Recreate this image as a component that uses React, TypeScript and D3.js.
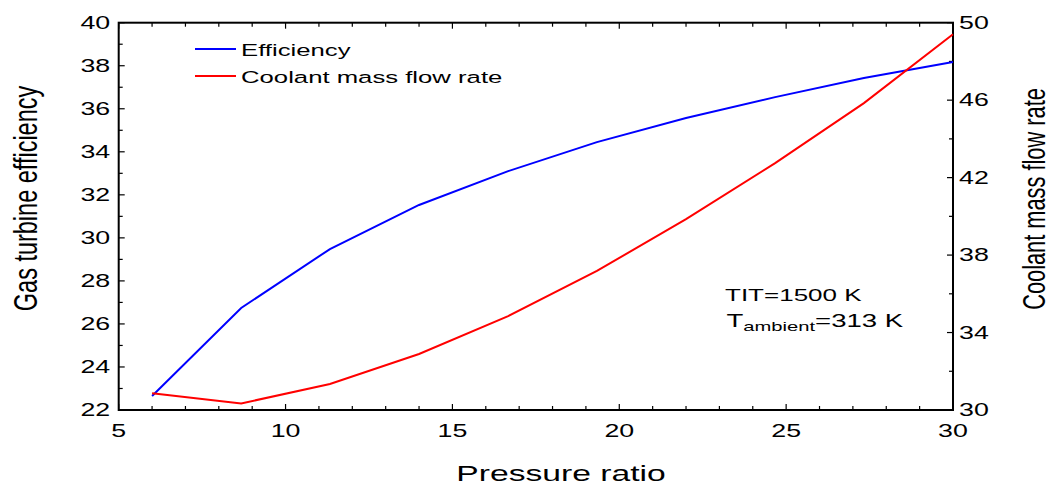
import React from "react";
import * as d3 from "d3";

const pressureRatio = [6, 8.67, 11.33, 14, 16.67, 19.33, 22, 24.67, 27.33, 30];
const efficiency = [22.65, 26.74, 29.48, 31.53, 33.1, 34.45, 35.57, 36.54, 37.43, 38.17];
const coolantFlow = [30.86, 30.34, 31.34, 32.89, 34.85, 37.18, 39.86, 42.75, 45.85, 49.4];
const xTicks = [5, 10, 15, 20, 25, 30];
const yLeftTicks = [22, 24, 26, 28, 30, 32, 34, 36, 38, 40];
const yRightTicks = [30, 34, 38, 42, 46, 50];

const W = 1052;
const H = 486;
const L = 118.7, R = 953, T = 22.7, B = 410;
const SX = 1.53;
const FONT = "'Liberation Sans', Arial, sans-serif";

export default function App() {
  const x = d3.scaleLinear().domain([5, 30]).range([L, R]);
  const yL = d3.scaleLinear().domain([22, 40]).range([B, T]);
  const yR = d3.scaleLinear().domain([30, 50]).range([B, T]);

  const effLine = d3.line<number>().x((_, i) => x(pressureRatio[i])).y((d) => yL(d))(efficiency) || "";
  const coolLine = d3.line<number>().x((_, i) => x(pressureRatio[i])).y((d) => yR(d))(coolantFlow) || "";

  const xMinor = d3.range(5, 31, 1);
  const yLMinor = d3.range(22, 41, 1);
  const yRMinor = d3.range(30, 51, 2);

  const txt = (xx: number, yy: number, s: string, size: number, anchor: string, key?: string) => (
    <text key={key} transform={`translate(${xx},${yy}) scale(${SX},1)`} fontSize={size} textAnchor={anchor} fontFamily={FONT} fill="#000">{s}</text>
  );

  return (
    <svg width={W} height={H} style={{ position: "absolute", left: 0, top: 0, background: "#fff" }}>
      <rect x={0} y={0} width={W} height={H} fill="#fff" />
      {/* ticks */}
      {xMinor.map((v) => {
        const len = v % 5 === 0 ? 6 : 4;
        return (
          <g key={"xt" + v} stroke="#000" strokeWidth={1.2}>
            <line x1={x(v)} x2={x(v)} y1={B} y2={B - len} />
            <line x1={x(v)} x2={x(v)} y1={T} y2={T + len} />
          </g>
        );
      })}
      {yLMinor.map((v) => {
        const len = v % 2 === 0 ? 6 : 4;
        return <line key={"yl" + v} x1={L} x2={L + len} y1={yL(v)} y2={yL(v)} stroke="#000" strokeWidth={1.2} />;
      })}
      {yRMinor.map((v) => {
        const len = (v - 30) % 4 === 0 ? 6 : 4;
        return <line key={"yr" + v} x1={R} x2={R - len} y1={yR(v)} y2={yR(v)} stroke="#000" strokeWidth={1.2} />;
      })}
      {/* frame */}
      <rect x={L} y={T} width={R - L} height={B - T} fill="none" stroke="#000" strokeWidth={2} />
      {/* data */}
      <path d={effLine} fill="none" stroke="#0000ff" strokeWidth={2} />
      <path d={coolLine} fill="none" stroke="#ff0000" strokeWidth={2} />
      {/* tick labels */}
      {xTicks.map((v) => txt(x(v), 437, String(v), 17.5, "middle", "xl" + v))}
      {yLeftTicks.map((v) => txt(L - 8.5, yL(v) + 6, String(v), 17.5, "end", "yll" + v))}
      {yRightTicks.map((v) => txt(R + 6, yR(v) + 6, String(v), 17.5, "start", "yrl" + v))}
      {/* axis titles */}
      {txt(561, 481, "Pressure ratio", 22, "middle")}
      <text transform={`translate(37,198.5) scale(1.45,1) rotate(-90)`} fontSize={23.5} textAnchor="middle" fontFamily={FONT} fill="#000">Gas turbine efficiency</text>
      <text transform={`translate(1045,199) scale(1.45,1) rotate(-90)`} fontSize={21.8} textAnchor="middle" fontFamily={FONT} fill="#000">Coolant mass flow rate</text>
      {/* legend */}
      <line x1={195} x2={236} y1={49} y2={49} stroke="#0000ff" strokeWidth={2} />
      {txt(241, 56, "Efficiency", 16.8, "start")}
      <line x1={195} x2={236} y1={76} y2={76} stroke="#ff0000" strokeWidth={2} />
      {txt(241, 83, "Coolant mass flow rate", 16.8, "start")}
      {/* annotations */}
      {txt(725, 301, "TIT=1500 K", 17, "start")}
      <text transform={`translate(726.5,327) scale(${SX},1)`} fontSize={18} fontFamily={FONT} fill="#000">
        T<tspan fontSize={13.2} dy={4}>ambient</tspan><tspan dy={-4}>=313 K</tspan>
      </text>
    </svg>
  );
}
